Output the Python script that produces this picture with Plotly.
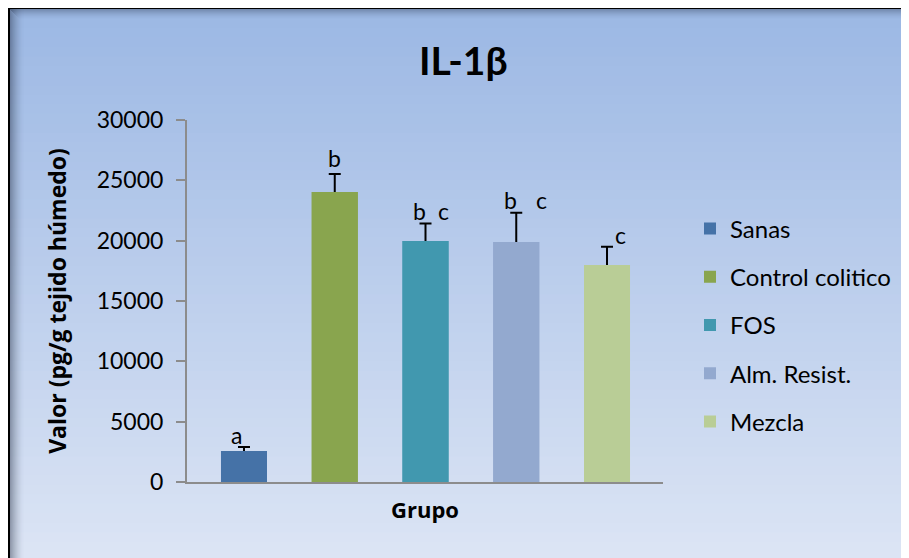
import plotly.graph_objects as go

# ---- data ----
groups = ["Sanas", "Control colitico", "FOS", "Alm. Resist.", "Mezcla"]
values = [2570, 24030, 19970, 19880, 17980]
errors = [330, 1490, 1460, 2430, 1520]
sig_letters = ["a", "b", "b c", "b c", "c"]
y_ticks = [0, 5000, 10000, 15000, 20000, 25000, 30000]

# ---- style ----
colors = ["#4572A7", "#89A54E", "#4198AF", "#93A9CF", "#B9CD96"]
OFF = 8                       # page body margin
W, H = 909, 558 - OFF
ML, MT = 187 - OFF, 120 - OFF
MR = W - (663 - OFF)
MB = H - (482 - OFF)
PW, PH = W - ML - MR, H - MT - MB
FONT = "Lato, 'Liberation Sans', Arial, sans-serif"
BFONT = "'Open Sans', Lato, Arial, sans-serif"

# letter offsets (px from bar center) and vertical shift per bar
letter_dx = [[-7], [0], [-6, 18], [-6, 25], [13]]
letter_dy = [-4, 0, -4, -3, -4]


def px_to_paper_x(px):  # px in reference page coordinates
    return (px - OFF - ML) / PW


def px_to_paper_y(py):
    return (H - MB - (py - OFF)) / PH


fig = go.Figure()
# error-bar carriers (lower half hidden beneath the bars drawn afterwards)
for i, g in enumerate(groups):
    fig.add_trace(go.Bar(
        x=[g], y=[values[i]], name=g, showlegend=False, hoverinfo="skip",
        marker=dict(color=colors[i], line=dict(width=0)),
        width=0.507,
        error_y=dict(type="data", array=[errors[i]],
                     color="black", thickness=2, width=6),
    ))
for i, g in enumerate(groups):
    fig.add_trace(go.Bar(
        x=[g], y=[values[i]], name=g,
        marker=dict(color=colors[i], line=dict(width=0)),
        width=0.507,
        legendgroup=g,
    ))

# background gradient + frame
shapes = []
top_c = (156, 184, 228)
bot_c = (222, 230, 245)
x0p, x1p = px_to_paper_x(10), px_to_paper_x(930)
n = 60
y_start, y_end = 9, 580
for k in range(n):
    t = k / (n - 1)
    c = tuple(round(top_c[j] + (bot_c[j] - top_c[j]) * t) for j in range(3))
    ya = y_start + (y_end - y_start) * k / n
    yb = y_start + (y_end - y_start) * (k + 1) / n + 1
    shapes.append(dict(type="rect", xref="paper", yref="paper", layer="below",
                       x0=x0p, x1=x1p, y0=px_to_paper_y(ya), y1=px_to_paper_y(yb),
                       fillcolor="rgb(%d,%d,%d)" % c, line=dict(width=0)))
# inner shadows
for k in range(14):
    a = 0.38 * (1 - k / 14) ** 1.6
    shapes.append(dict(type="rect", xref="paper", yref="paper", layer="below",
                       x0=px_to_paper_x(10 + k), x1=px_to_paper_x(11 + k),
                       y0=px_to_paper_y(9), y1=px_to_paper_y(580),
                       fillcolor="rgba(20,30,50,%.3f)" % a, line=dict(width=0)))
for k in range(10):
    a = 0.30 * (1 - k / 10) ** 1.6
    shapes.append(dict(type="rect", xref="paper", yref="paper", layer="below",
                       x0=px_to_paper_x(10 + k), x1=px_to_paper_x(930),
                       y0=px_to_paper_y(9 + k), y1=px_to_paper_y(10 + k),
                       fillcolor="rgba(20,30,50,%.3f)" % a, line=dict(width=0)))
# black frame lines
shapes.append(dict(type="rect", xref="paper", yref="paper", layer="below",
                   x0=px_to_paper_x(7), x1=px_to_paper_x(930),
                   y0=px_to_paper_y(6), y1=px_to_paper_y(9),
                   fillcolor="black", line=dict(width=0)))
shapes.append(dict(type="rect", xref="paper", yref="paper", layer="below",
                   x0=px_to_paper_x(7), x1=px_to_paper_x(10),
                   y0=px_to_paper_y(6), y1=px_to_paper_y(580),
                   fillcolor="black", line=dict(width=0)))

annotations = []
for i, g in enumerate(groups):
    for lt, dx in zip(sig_letters[i].split(), letter_dx[i]):
        annotations.append(dict(x=g, y=values[i] + errors[i], text=lt, showarrow=False,
                                xanchor="center", yanchor="bottom", xshift=dx,
                                yshift=letter_dy[i],
                                font=dict(family=FONT, size=23, color="black")))
annotations.append(dict(xref="paper", yref="paper", x=px_to_paper_x(463), y=px_to_paper_y(60),
                        text="<b>IL-1β</b>", showarrow=False, xanchor="center", yanchor="middle",
                        font=dict(family=FONT, size=39, color="black")))

fig.update_layout(
    width=W, height=H,
    margin=dict(l=ML, r=MR, t=MT, b=MB, autoexpand=False),
    paper_bgcolor="white", plot_bgcolor="rgba(0,0,0,0)",
    barmode="overlay",
    shapes=shapes, annotations=annotations,
    font=dict(family=FONT, size=23, color="black"),
    showlegend=True,
    legend=dict(x=px_to_paper_x(690), y=px_to_paper_y(325), xanchor="left", yanchor="middle",
                bgcolor="rgba(0,0,0,0)", font=dict(family=FONT, size=24, color="black"),
                tracegroupgap=14, itemclick=False),
)
fig.update_xaxes(
    type="category", range=[-0.628, 4.617], showticklabels=False, ticks="",
    showline=True, linecolor="#8c8c8c", linewidth=2, showgrid=False, zeroline=False,
    title=dict(text="<b>Grupo</b>", font=dict(family=BFONT, size=22, color="black"), standoff=20),
)
fig.update_yaxes(
    range=[0, 30000], tickvals=y_ticks, ticktext=[str(v) for v in y_ticks],
    ticks="outside", ticklen=9, tickwidth=2, tickcolor="#8c8c8c",
    showline=True, linecolor="#8c8c8c", linewidth=2, showgrid=False, zeroline=False,
    ticklabelstandoff=8,
    tickfont=dict(family=FONT, size=23, color="black"),
    title=dict(text="<b>Valor (pg/g tejido húmedo)</b>", font=dict(family=BFONT, size=23, color="black"),
               standoff=24),
)
fig.write_html("out.html")
